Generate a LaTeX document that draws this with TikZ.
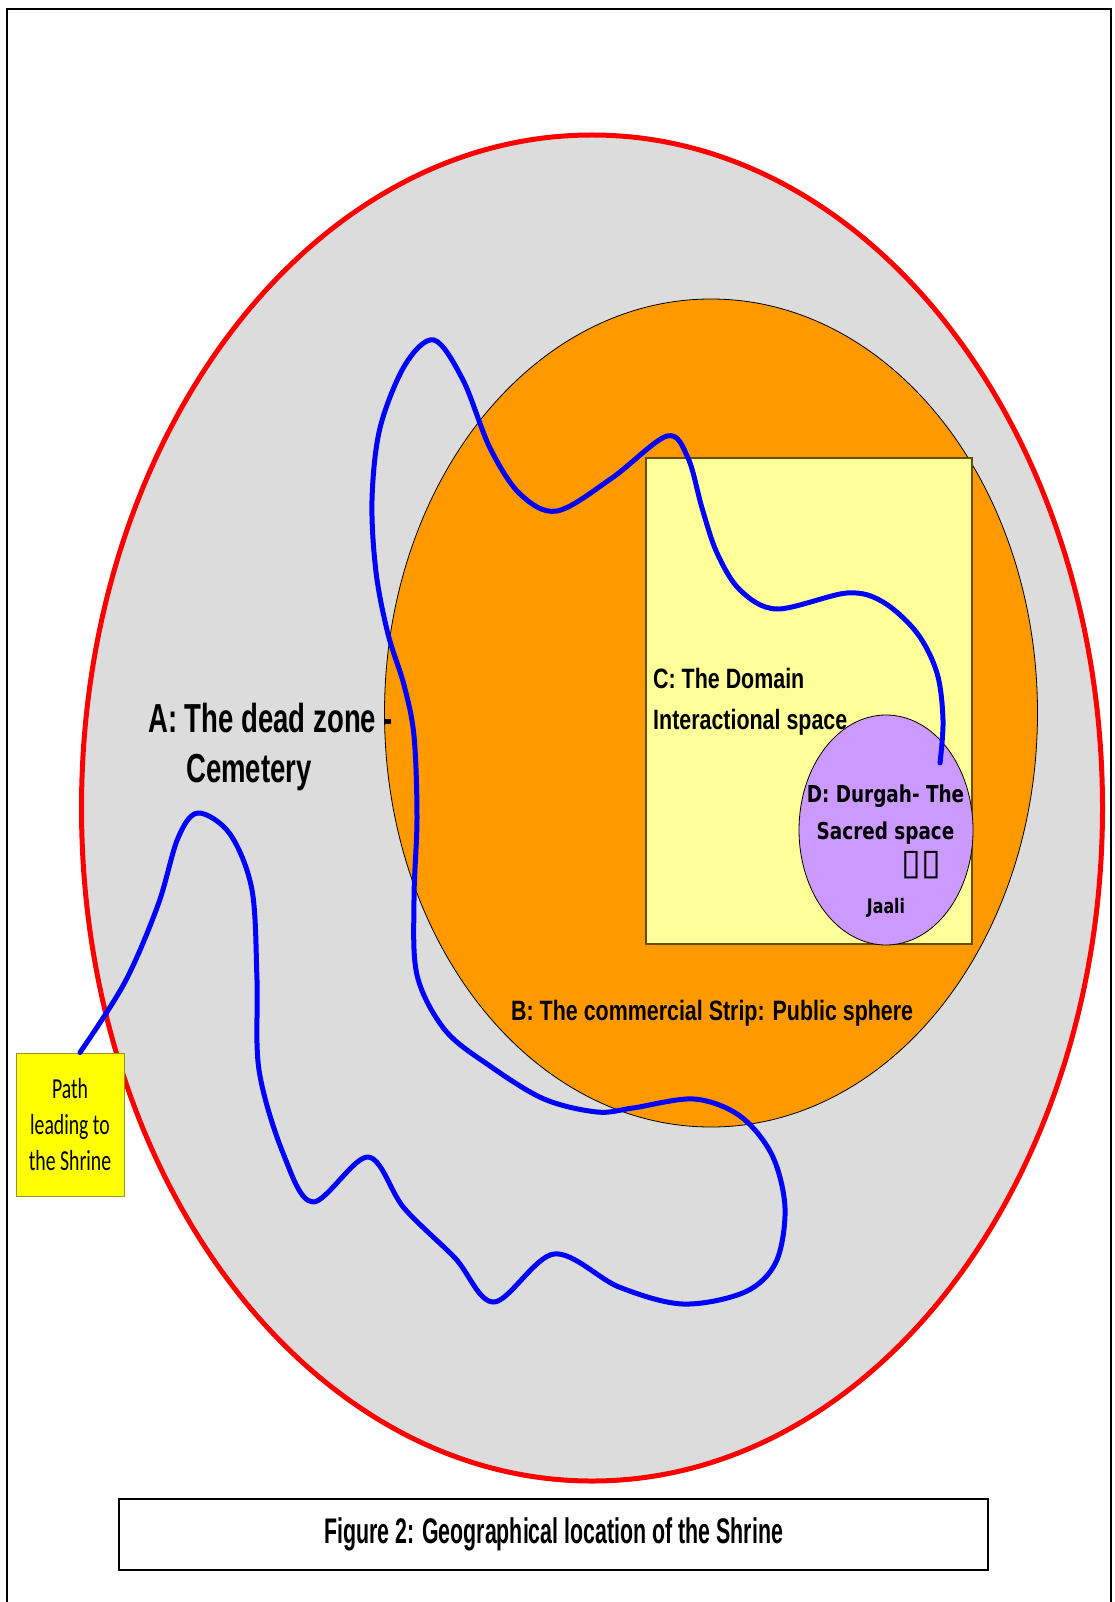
\documentclass[tikz,border=0pt]{standalone}
\usepackage{fontspec}
\usepackage{xcolor}
\usepackage{tikz}
\usetikzlibrary{shapes.geometric}

\newfontfamily\zoneAfont[FakeStretch=0.68]{Liberation Sans}
\newfontfamily\zoneBfont[FakeStretch=0.765]{Liberation Sans}
\newfontfamily\figcapfont[FakeStretch=0.6]{Liberation Sans}
\newfontfamily\sacredfont[FakeStretch=0.79]{DejaVu Sans}
\newfontfamily\pathfont[FakeStretch=0.68]{Carlito}
\newfontfamily\glyphfont{DejaVu Sans}

\definecolor{zonegray}{RGB}{220,220,220}
\definecolor{stripOrange}{RGB}{255,153,0}
\definecolor{domainYellow}{RGB}{255,255,153}
\definecolor{domainEdge}{RGB}{102,80,0}
\definecolor{sacredPurple}{RGB}{204,153,255}
\definecolor{pathYellow}{RGB}{255,255,0}
\definecolor{pathEdge}{RGB}{150,150,40}
\definecolor{walkBlue}{RGB}{0,0,255}

\begin{document}
\begin{tikzpicture}[x=1pt, y=-1pt,
  zone/.style={ellipse, inner sep=0pt},
  lbl/.style={inner sep=0pt, text=black},
  pathbox/.style={rectangle, fill=pathYellow, draw=pathEdge, line width=1pt,
                  minimum width=108, minimum height=143, inner sep=0pt, align=center,
                  font=\pathfont\fontsize{29}{36}\selectfont},
  capbox/.style={rectangle, draw=black, line width=1.5pt, fill=white,
                 minimum width=869, minimum height=71, inner sep=0pt,
                 font=\figcapfont\bfseries\fontsize{35.6}{40}\selectfont},
  walk/.style={draw=walkBlue, line width=5pt, line cap=round, line join=round}]
  \useasboundingbox (0,0) rectangle (1115,1602);

  %% ─── Frame ──────────────────────────────────────────────────────────────
  \draw[line width=2.5pt] (7,1602) |- (1111,9) -- (1111,1602);

  %% ─── Zones ──────────────────────────────────────────────────────────────
  \node[zone, fill=zonegray, draw=red, line width=5pt,
        minimum width=1021, minimum height=1346] (deadzone) at (592,808) {};
  \node[zone, fill=stripOrange, draw=black, line width=0.8pt,
        minimum width=653, minimum height=828] (strip) at (711,713) {};
  \node[rectangle, fill=domainYellow, draw=domainEdge, line width=1.2pt, inner sep=0pt,
        minimum width=326, minimum height=486] (domain) at (809,701) {};
  \node[zone, fill=sacredPurple, draw=black, line width=0.8pt,
        minimum width=174, minimum height=230] (durgah) at (886,830) {};

  %% ─── Path to the shrine ─────────────────────────────────────────────────
  \node[pathbox] (pathstart) at (70,1124.5) {Path\\leading to\\the Shrine};
  \coordinate (walkend) at (940,763);
  \draw[walk] plot[smooth, tension=0.55] coordinates {
    ([xshift=10pt]pathstart.north) (125,982) (158,905) (178,838) (198,813) (230,834)
    (252,890) (257,980) (259,1070) (283,1153) (313,1202) (368,1157) (404,1208)
    (455,1258) (494,1302) (554,1254) (619,1287) (683,1304) (745,1292)
    (776,1262) (785,1208) (772,1155) (740,1116) (694,1099) (633,1108)
    (597,1112) (544,1099) (490,1066) (445,1030) (417,975) (414,899)
    (417,818) (414,736) (404,685) (388,634) (376,572) (372,500)
    (380,428) (405,365) (434,340) (463,380) (490,448) (520,494)
    (557,511) (612,478) (667,436) (688,458) (702,508) (717,553) (740,590)
    (777,609) (847,593) (883,602) (917,633) (937,673) (943,720) (walkend)};

  %% ─── Labels ─────────────────────────────────────────────────────────────
  \node[lbl, anchor=base west, align=left,
        font=\zoneAfont\bfseries\fontsize{40.5}{50}\selectfont] (deadlabel) at (148,782)
    {A: The dead zone -\\\hspace*{38pt}Cemetery};
  \node[lbl, anchor=base west, align=left,
        font=\zoneBfont\bfseries\fontsize{28}{41}\selectfont] (domainlabel) at (653,729)
    {C: The Domain\\Interactional space};
  \node[lbl, anchor=base west,
        font=\zoneBfont\bfseries\fontsize{28}{41}\selectfont] (striplabel) at (511,1020)
    {B: The commercial Strip: Public sphere};
  \node[lbl, anchor=base, align=center,
        font=\sacredfont\bfseries\fontsize{23.3}{37}\selectfont] (durgahlabel) at (885.5,839)
    {D: Durgah- The\\Sacred space};
  \node[lbl, font=\glyphfont\fontsize{36}{36}\selectfont] (jaaliglyphs) at (921,865) {▯▯};
  \node[lbl, anchor=base, font=\sacredfont\bfseries\fontsize{20}{20}\selectfont] (jaali) at (886,913) {Jaali};

  %% ─── Caption ────────────────────────────────────────────────────────────
  \node[capbox] (caption) at (553.5,1534.5) {Figure 2: Geographical location of the Shrine};
\end{tikzpicture}
\end{document}
